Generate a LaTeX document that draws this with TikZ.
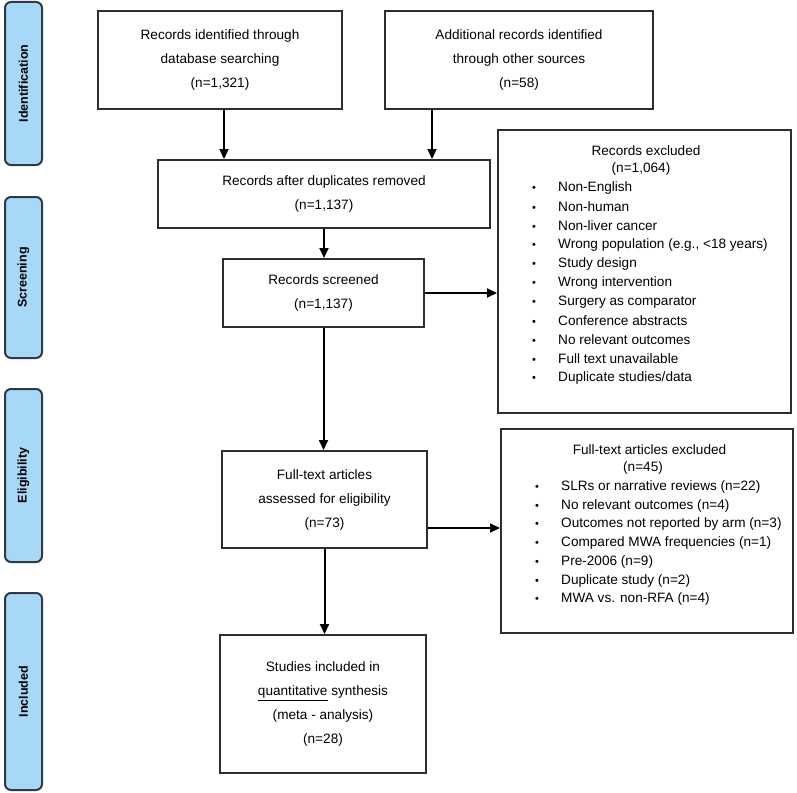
\documentclass[tikz,border=0pt]{standalone}
\usepackage{fontspec}
\setmainfont{Liberation Sans}
\usetikzlibrary{arrows.meta}

\definecolor{phaseblue}{HTML}{A8D8F8}
\definecolor{phaseline}{HTML}{2F3A44}
\definecolor{boxline}{HTML}{2E2E2E}

\newcommand{\itemdot}{\makebox[26pt][l]{\fontsize{11}{11}\selectfont\textbullet}}

\tikzset{
  phase/.style={draw=phaseline, line width=2pt, fill=phaseblue, rounded corners=6pt,
    rotate=90, minimum height=37pt, inner sep=0pt, font=\fontsize{12.5}{14}\selectfont\bfseries},
  flowbox/.style={draw=boxline, line width=2pt, align=center, inner sep=0pt,
    font=\fontsize{13.6}{24}\selectfont},
  listtitle/.style={inner sep=0pt, font=\fontsize{13.6}{16}\selectfont},
  listitem/.style={anchor=west, inner sep=0pt, font=\fontsize{13.6}{16}\selectfont},
  flowarrow/.style={line width=2pt, -{Triangle[length=10pt,width=9pt]}}
}

\begin{document}
\begin{tikzpicture}[x=1pt,y=-1pt]
                    \useasboundingbox (0,0) rectangle (797,792);

                    % Phase bars on the left
                    \node [phase, minimum width=163pt] (ident) at (23.5,83.5) {Identification};
                    \node [phase, minimum width=161pt] (screen) at (23.5,277.5) {Screening};
                    \node [phase, minimum width=173pt] (elig) at (23.5,475.5) {Eligibility};
                    \node [phase, minimum width=197pt] (incl) at (23.5,691.5) {Included};

                    % Box database records
                    \node [flowbox, minimum width=244pt, minimum height=98pt] (dbase) at (220,60)
                      {Records identified through\\database searching\\(n=1,321)};

                    % Box other sources
                    \node [flowbox, minimum width=268pt, minimum height=98pt] (other) at (519,60)
                      {Additional records identified\\through other sources\\(n=58)};

                    % Box after duplicates
                    \node [flowbox, minimum width=332pt, minimum height=68pt] (dedup) at (324,194)
                      {Records after duplicates removed\\(n=1,137)};

                    % Box screened
                    \node [flowbox, minimum width=201pt, minimum height=68pt] (screened) at (323.5,293)
                      {Records screened\\(n=1,137)};

                    % Box full-text assessed
                    \node [flowbox, minimum width=205pt, minimum height=97pt] (fulltext) at (324.5,499.5)
                      {Full-text articles\\assessed for eligibility\\(n=73)};

                    % Box included studies
                    \node [flowbox, minimum width=206pt, minimum height=138pt] (studies) at (323,704)
                      {Studies included in\\\underline{quantitative} synthesis\\(meta - analysis)\\(n=28)};

                    % Box records excluded
                    \node [flowbox, minimum width=293pt, minimum height=283pt] (recexcl) at (644.5,271.5) {};
                    \node [listtitle] (recexcl-t) at (646,151) {Records excluded};
                    \node [listtitle] (recexcl-n) at (641,169) {(n=1,064)};
                    \node [listitem] (re1) at (532,188) {\itemdot Non-English};
                    \node [listitem] (re2) at (532,207) {\itemdot Non-human};
                    \node [listitem] (re3) at (532,226) {\itemdot Non-liver cancer};
                    \node [listitem] (re4) at (532,245) {\itemdot Wrong population (e.g., <18 years)};
                    \node [listitem] (re5) at (532,264) {\itemdot Study design};
                    \node [listitem] (re6) at (532,283) {\itemdot Wrong intervention};
                    \node [listitem] (re7) at (532,302) {\itemdot Surgery as comparator};
                    \node [listitem] (re8) at (532,321) {\itemdot Conference abstracts};
                    \node [listitem] (re9) at (532,340) {\itemdot No relevant outcomes};
                    \node [listitem] (re10) at (532,359) {\itemdot Full text unavailable};
                    \node [listitem] (re11) at (532,378) {\itemdot Duplicate studies/data};

                    % Box full-text excluded
                    \node [flowbox, minimum width=292pt, minimum height=204pt] (ftexcl) at (647,531) {};
                    \node [listtitle] (ftexcl-t) at (649.5,450) {Full-text articles excluded};
                    \node [listtitle] (ftexcl-n) at (643,468) {(n=45)};
                    \node [listitem] (fe1) at (535,487) {\itemdot SLRs or narrative reviews (n=22)};
                    \node [listitem] (fe2) at (535,505.7) {\itemdot No relevant outcomes (n=4)};
                    \node [listitem] (fe3) at (535,524.4) {\itemdot Outcomes not reported by arm (n=3)};
                    \node [listitem] (fe4) at (535,543.1) {\itemdot Compared MWA frequencies (n=1)};
                    \node [listitem] (fe5) at (535,561.8) {\itemdot Pre-2006 (n=9)};
                    \node [listitem] (fe6) at (535,580.5) {\itemdot Duplicate study (n=2)};
                    \node [listitem] (fe7) at (535,599.2) {\itemdot MWA vs. non-RFA (n=4)};

                    % Arrows
                    \draw [flowarrow] ([xshift=4pt]dbase.south) -- ([xshift=4pt]dbase.south |- dedup.north);
                    \draw [flowarrow] ([xshift=48pt]other.south west) -- ([xshift=48pt]other.south west |- dedup.north);
                    \draw [flowarrow] (dedup.south) -- (dedup.south |- screened.north);
                    \draw [flowarrow] (screened.east) -- (screened.east -| recexcl.west);
                    \draw [flowarrow] (screened.south) -- (screened.south |- fulltext.north);
                    \draw [flowarrow] ([yshift=-28.5pt]fulltext.east) -- ([yshift=-28.5pt]fulltext.east -| ftexcl.west);
                    \draw [flowarrow] (fulltext.south) -- (fulltext.south |- studies.north);
\end{tikzpicture}
\end{document}
